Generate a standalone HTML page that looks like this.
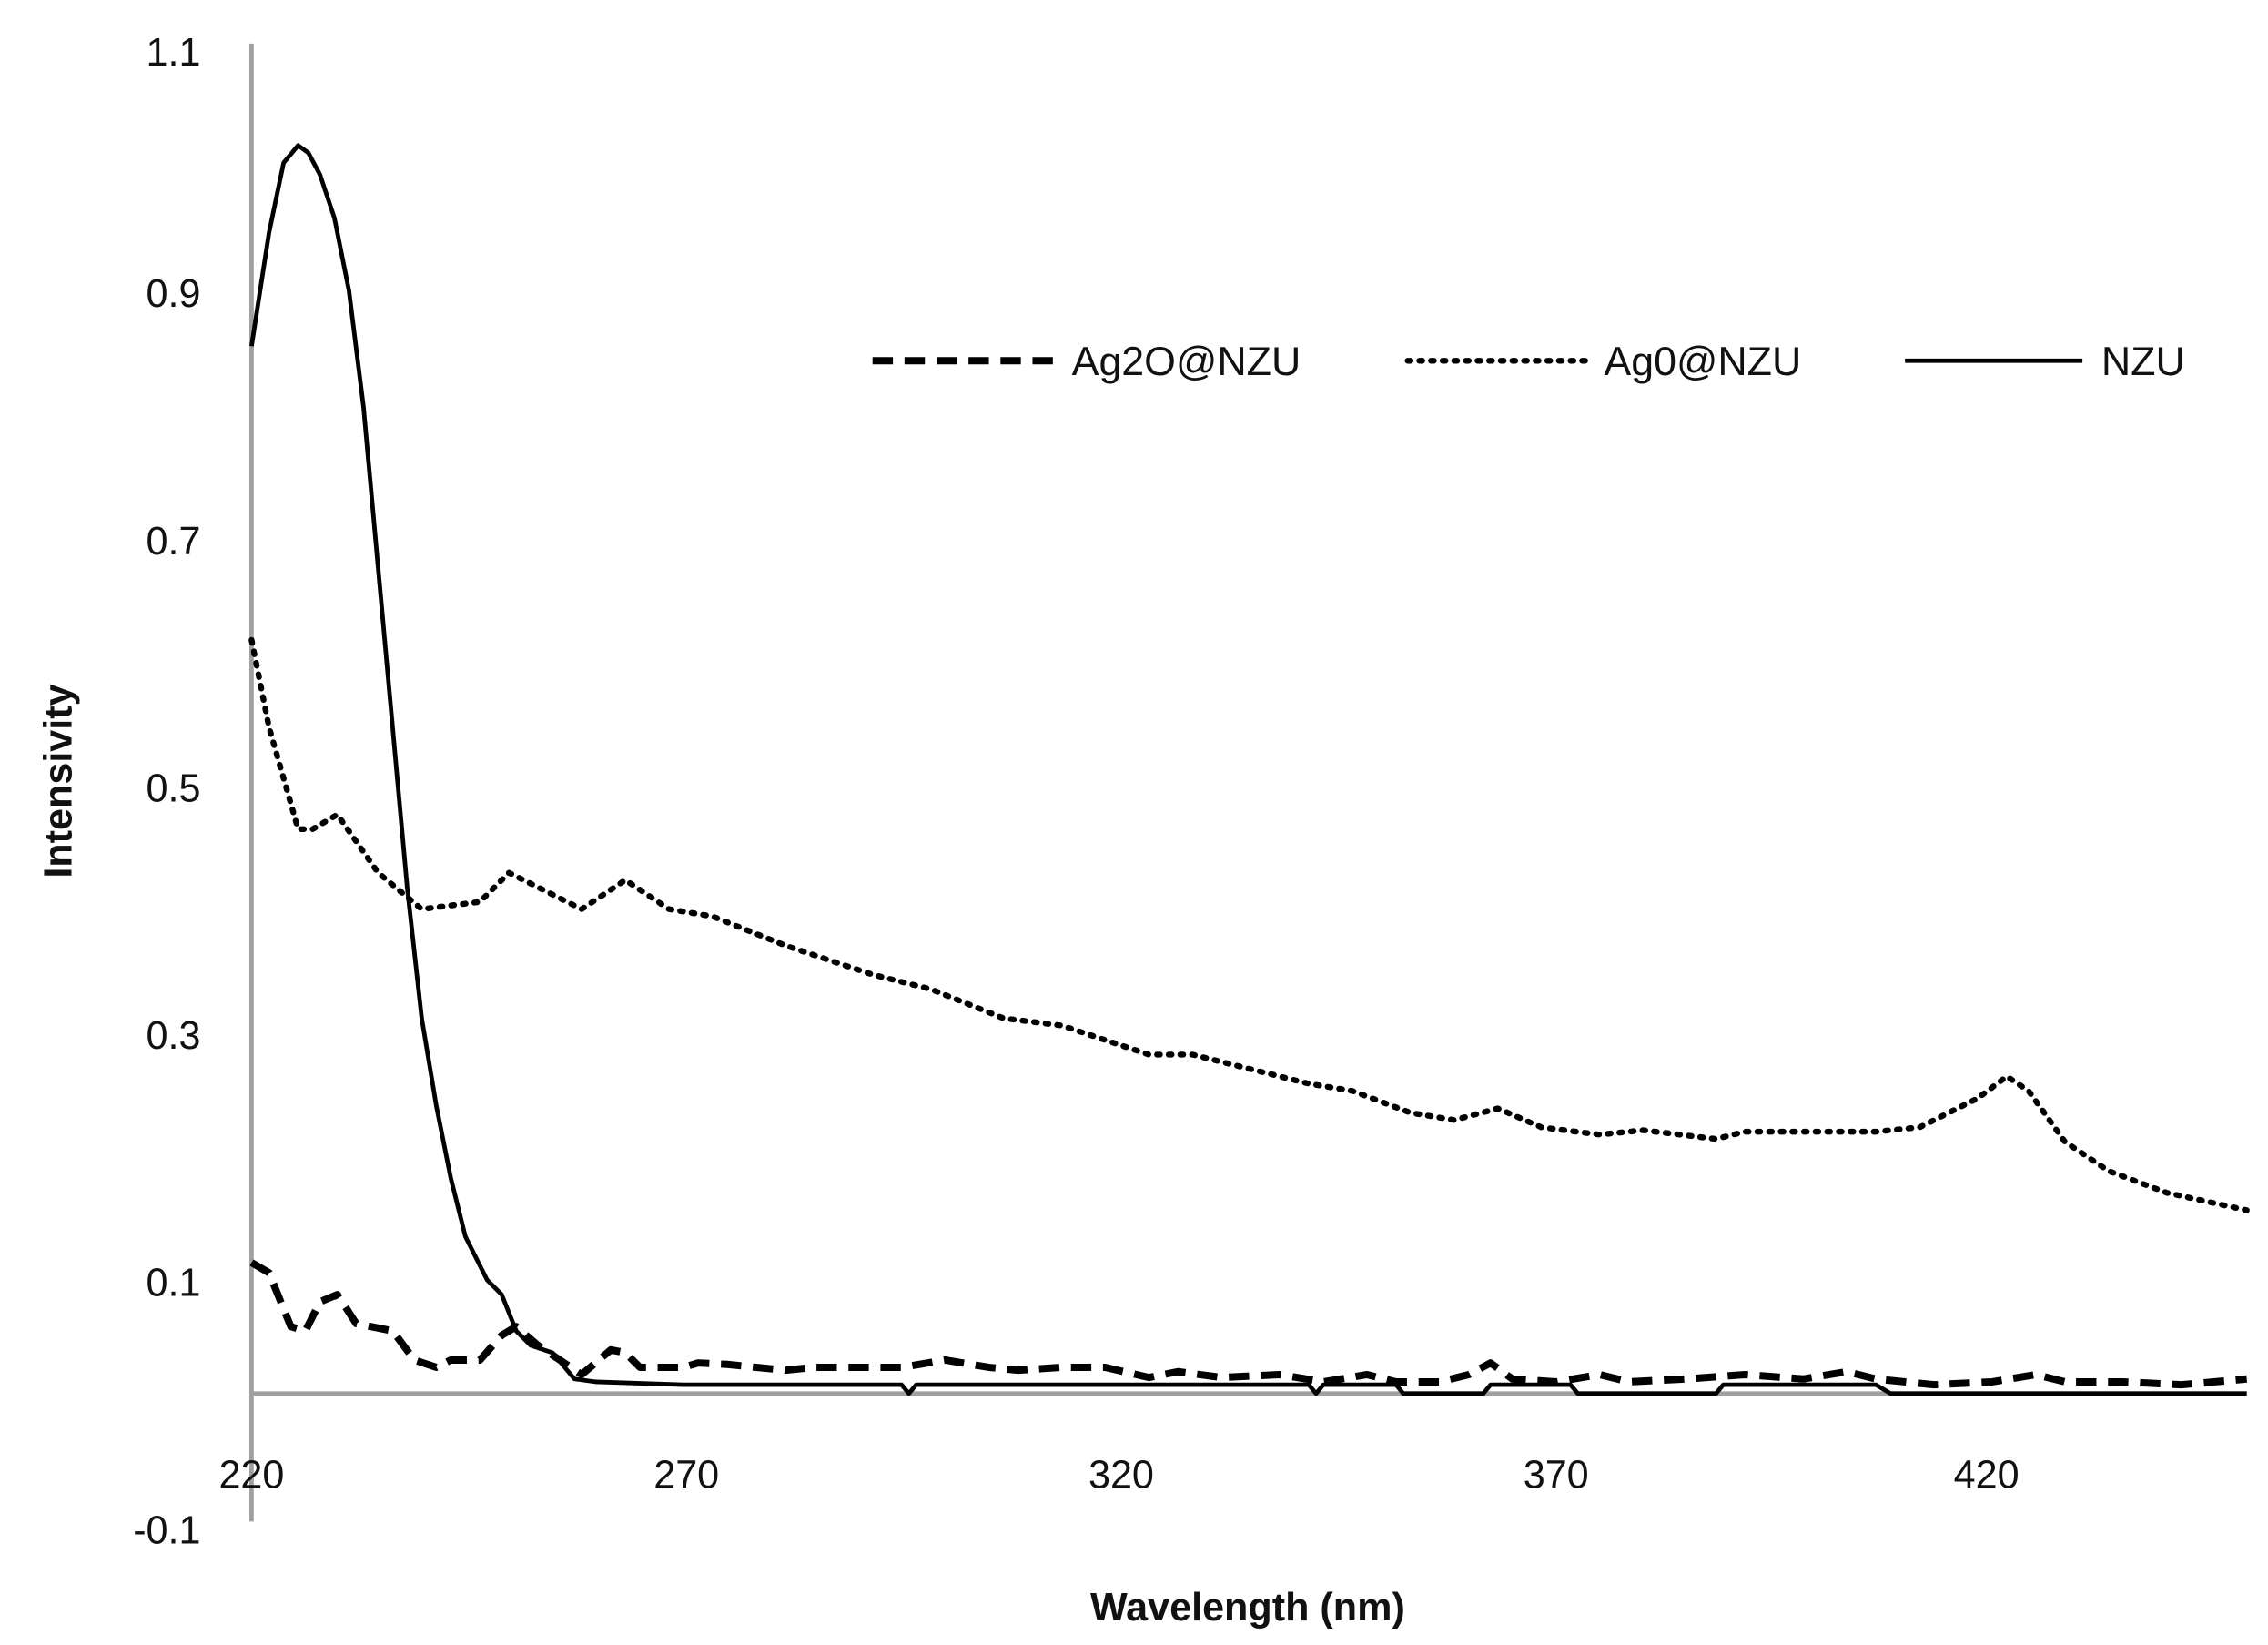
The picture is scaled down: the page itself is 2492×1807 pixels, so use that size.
<!DOCTYPE html>
<html><head><meta charset="utf-8"><style>html,body{margin:0;padding:0;background:#fff}svg{display:block}</style></head>
<body>
<svg width="2492" height="1807" viewBox="0 0 1559.6 1130.9" preserveAspectRatio="none" xmlns="http://www.w3.org/2000/svg" font-family="'Liberation Sans', sans-serif">
<rect width="1559.6" height="1130.9" fill="#fff"/>
<line x1="173" y1="30" x2="173" y2="1046" stroke="#a0a0a0" stroke-width="3"/>
<line x1="173" y1="958" x2="1545" y2="958" stroke="#a0a0a0" stroke-width="3"/>
<g font-size="27" fill="#111" text-anchor="end">
<text x="138" y="45">1.1</text>
<text x="138" y="211">0.9</text>
<text x="138" y="381">0.7</text>
<text x="138" y="551">0.5</text>
<text x="138" y="721">0.3</text>
<text x="138" y="891">0.1</text>
<text x="138" y="1061">-0.1</text>
</g>
<g font-size="27" fill="#111" text-anchor="middle">
<text x="173" y="1023">220</text>
<text x="472" y="1023">270</text>
<text x="771" y="1023">320</text>
<text x="1070" y="1023">370</text>
<text x="1366" y="1023">420</text>
</g>
<text x="858" y="1114" font-size="27" font-weight="bold" text-anchor="middle" fill="#111">Wavelength (nm)</text>
<text transform="translate(49,537) rotate(-90)" font-size="27" font-weight="bold" text-anchor="middle" fill="#111">Intensivity</text>
<g fill="none" stroke="#000" stroke-linejoin="round">
<polyline stroke-width="3" points="173,238 185,160 195,112 205,100 212,105 220,120 230,150 240,200 250,280 260,390 270,500 280,610 290,700 300,760 310,810 320,850 335,880 345,890 355,915 365,925 380,930 395,948 410,950 470,952 620,952 625,958 630,952 900,952 905,958 910,952 960,952 965,958 1020,958 1025,952 1080,952 1085,958 1180,958 1185,952 1290,952 1300,958 1545,958"/>
<polyline stroke-width="4" stroke-dasharray="2 6" stroke-linecap="round" points="173,440 185,500 205,570 215,570 232,560 260,600 290,625 330,620 350,600 400,625 430,605 460,625 490,630 540,650 600,670 640,680 690,700 730,705 790,725 820,725 900,745 930,750 970,765 1000,770 1030,762 1060,775 1100,780 1130,777 1180,783 1200,778 1240,778 1290,778 1320,775 1360,755 1380,740 1395,750 1420,785 1450,805 1490,820 1545,832"/>
<polyline stroke-width="5" stroke-dasharray="14 8" points="173,868 185,875 200,912 210,915 220,895 232,890 245,910 270,915 285,935 300,940 310,935 330,935 345,918 355,912 370,925 385,935 400,945 420,928 430,930 440,940 470,940 480,937 500,938 540,942 560,940 600,940 620,940 650,935 680,940 700,942 730,940 760,940 790,947 810,943 840,947 880,945 910,950 940,945 960,950 990,950 1010,945 1025,937 1040,948 1070,950 1100,945 1120,950 1160,948 1200,945 1240,948 1270,943 1290,948 1330,952 1370,950 1400,945 1420,950 1460,950 1500,952 1545,948"/>
<line x1="600" y1="248" x2="725" y2="248" stroke-width="5" stroke-dasharray="14 8"/>
<line x1="968" y1="248" x2="1093" y2="248" stroke-width="4" stroke-dasharray="2 6" stroke-linecap="round"/>
<line x1="1310" y1="248" x2="1432" y2="248" stroke-width="3"/>
</g>
<g font-size="28" fill="#111">
<text x="737" y="258">Ag2O@NZU</text>
<text x="1103" y="258">Ag0@NZU</text>
<text x="1445" y="258">NZU</text>
</g>
</svg>
</body></html>
